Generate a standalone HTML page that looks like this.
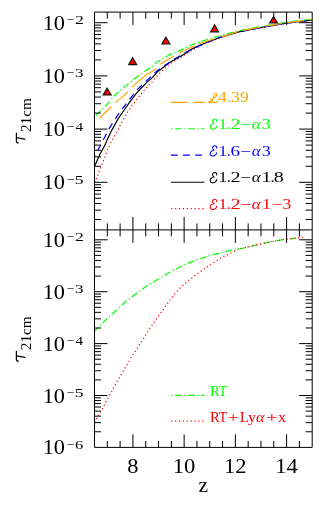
<!DOCTYPE html>
<html><head><meta charset="utf-8"><title>tau 21cm</title>
<style>html,body{margin:0;padding:0;background:#fff}svg{display:block;will-change:transform}</style></head>
<body>
<svg width="332" height="510" viewBox="0 0 332 510">
<rect width="332" height="510" fill="#fff"/>
<g>
<path d="M94.7,182.8 L95.6,181.0 L99.2,171.3 L104.0,159.3 L107.7,149.6 L110.1,144.3 L112.5,139.8 L117.3,131.1 L122.1,121.5 L126.9,113.1 L129.5,109.4 L132.2,105.5 L137.9,98.0 L143.3,91.3 L148.1,85.9 L151.8,82.3 L157.0,76.0 L163.1,69.9 L169.1,64.5 L175.1,60.3 L181.1,57.3 L192.0,50.1 L204.1,44.0 L219.8,37.8 L237.6,32.2 L250.0,29.7 L265.0,26.9 L285.7,23.4 L311.8,20.2" fill="none" stroke="#ff0000" stroke-width="1.20" stroke-linejoin="round" stroke-dasharray="1.2 2.68" stroke-dashoffset="0.0"/>
<path d="M94.7,165.9 L99.9,154.3 L105.3,144.4 L107.1,140.0 L111.3,131.1 L117.9,119.1 L124.5,109.5 L130.1,101.6 L136.1,93.7 L142.1,87.1 L148.1,81.1 L151.8,78.1 L157.0,72.3 L169.1,62.7 L181.1,56.1 L184.8,53.7 L192.0,48.9 L204.1,43.5 L219.8,37.5 L237.6,32.1 L250.0,29.6 L265.0,26.8 L285.7,23.2 L311.8,20.1" fill="none" stroke="#000" stroke-width="1.15" stroke-linejoin="round"/>
<path d="M94.7,156.3 L97.4,150.8 L101.0,144.8 L103.4,139.6 L108.9,129.3 L111.3,125.1 L117.9,114.9 L121.6,109.4 L124.9,105.5 L130.1,98.6 L133.1,94.9 L137.3,89.5 L140.9,86.3 L145.1,82.0 L149.3,78.3 L153.4,73.8 L158.3,69.9 L163.1,66.3 L168.5,63.1 L172.7,59.7 L178.7,56.7 L184.8,53.1 L192.0,48.9 L204.1,43.5 L219.8,37.5 L237.6,32.1 L250.0,29.6 L265.0,26.8 L285.7,23.2 L311.8,20.1" fill="none" stroke="#0000ff" stroke-width="1.20" stroke-linejoin="round" stroke-dasharray="6.8 5.3" stroke-dashoffset="5.6"/>
<path d="M96.1,115.7 L100.6,110.7 L104.0,108.0 L112.0,98.6 L114.4,95.5 L124.0,87.1 L136.1,77.5 L145.0,71.0 L151.8,67.0 L157.0,62.1 L169.1,54.9 L181.1,50.1 L192.0,44.7 L204.1,40.5 L219.8,35.7 L237.6,31.1 L250.0,28.6 L265.0,25.8 L285.7,22.2 L311.8,19.1" fill="none" stroke="#00ff00" stroke-width="1.20" stroke-linejoin="round" stroke-dasharray="6.7 2.6 1.3 2.5" stroke-dashoffset="0.0"/>
<path d="M99.7,118.0 L111.4,106.7" fill="none" stroke="#ffa500" stroke-width="1.20" stroke-linejoin="round"/>
<path d="M115.2,102.6 L123.9,95.6 L127.7,91.9" fill="none" stroke="#ffa500" stroke-width="1.20" stroke-linejoin="round"/>
<path d="M131.9,87.1 L138.5,81.4 L145.0,75.8 L151.8,71.4 L156.3,68.6" fill="none" stroke="#ffa500" stroke-width="1.20" stroke-linejoin="round"/>
<path d="M160.4,64.2 L167.0,59.9 L173.9,55.9" fill="none" stroke="#ffa500" stroke-width="1.20" stroke-linejoin="round"/>
<path d="M179.3,52.9 L184.8,50.5 L192.0,47.0 L194.3,45.9" fill="none" stroke="#ffa500" stroke-width="1.20" stroke-linejoin="round"/>
<path d="M198.6,43.9 L204.1,42.0 L213.1,39.1" fill="none" stroke="#ffa500" stroke-width="1.20" stroke-linejoin="round"/>
<path d="M222.1,36.7 L237.6,31.6 L250.0,29.1 L265.0,26.3 L285.7,22.8 L311.8,19.6" fill="none" stroke="#ffa500" stroke-width="1.20" stroke-linejoin="round" stroke-dasharray="16.9 5.4" stroke-dashoffset="0.0"/>
<path d="M94.7,331.0 L102.0,323.5 L114.1,312.2 L126.1,301.3 L138.2,292.2 L146.6,286.0 L152.0,282.6 L162.3,277.0 L172.0,271.0 L184.1,264.9 L196.1,260.1 L208.2,256.0 L220.2,252.9 L232.3,250.0 L243.6,248.0 L257.1,244.8 L270.7,241.8 L284.2,239.4 L299.5,237.8" fill="none" stroke="#00ff00" stroke-width="1.20" stroke-linejoin="round" stroke-dasharray="6.7 2.6 1.3 2.5" stroke-dashoffset="2.0"/>
<path d="M94.4,422.5 L98.3,415.9 L102.2,409.2 L107.4,399.0 L111.3,392.3 L116.6,382.2 L120.5,375.7 L124.5,369.1 L128.3,362.5 L132.3,355.8 L136.5,349.5 L140.5,343.1 L144.9,336.6 L149.6,328.8 L153.3,323.4 L157.5,317.3 L161.7,311.3 L166.5,304.7 L171.1,298.7 L175.9,292.4 L178.6,289.6 L184.1,284.2 L196.1,274.6 L208.2,266.1 L220.2,258.4 L232.3,252.2 L239.5,248.8 L243.6,248.0 L257.1,244.8 L270.7,241.8 L284.2,239.4 L303.6,237.2" fill="none" stroke="#ff0000" stroke-width="1.20" stroke-linejoin="round" stroke-dasharray="1.2 2.68" stroke-dashoffset="0.0"/>
</g>
<path d="M107.15,88.20 L111.10,95.00 L103.20,95.00 Z" fill="#ff0000" stroke="#111" stroke-width="1.2" stroke-linejoin="miter"/>
<path d="M132.70,57.80 L136.65,64.60 L128.75,64.60 Z" fill="#ff0000" stroke="#111" stroke-width="1.2" stroke-linejoin="miter"/>
<path d="M165.90,37.30 L169.85,44.00 L161.95,44.00 Z" fill="#ff0000" stroke="#111" stroke-width="1.2" stroke-linejoin="miter"/>
<path d="M214.60,24.90 L218.55,31.80 L210.65,31.80 Z" fill="#ff0000" stroke="#111" stroke-width="1.2" stroke-linejoin="miter"/>
<path d="M273.60,16.70 L277.55,23.00 L269.65,23.00 Z" fill="#ff0000" stroke="#111" stroke-width="1.2" stroke-linejoin="miter"/>
<path d="M94.50,12.10 H312.20 V447.40 H94.50 Z M94.50,229.90 H312.20 M107.31,12.10 v6.50 M107.31,223.40 v13.00 M107.31,447.40 v-6.50 M120.11,12.10 v6.50 M120.11,223.40 v13.00 M120.11,447.40 v-6.50 M132.92,12.10 v13.00 M132.92,216.90 v26.00 M132.92,447.40 v-13.00 M145.72,12.10 v6.50 M145.72,223.40 v13.00 M145.72,447.40 v-6.50 M158.53,12.10 v6.50 M158.53,223.40 v13.00 M158.53,447.40 v-6.50 M171.34,12.10 v6.50 M171.34,223.40 v13.00 M171.34,447.40 v-6.50 M184.14,12.10 v13.00 M184.14,216.90 v26.00 M184.14,447.40 v-13.00 M196.95,12.10 v6.50 M196.95,223.40 v13.00 M196.95,447.40 v-6.50 M209.75,12.10 v6.50 M209.75,223.40 v13.00 M209.75,447.40 v-6.50 M222.56,12.10 v6.50 M222.56,223.40 v13.00 M222.56,447.40 v-6.50 M235.36,12.10 v13.00 M235.36,216.90 v26.00 M235.36,447.40 v-13.00 M248.17,12.10 v6.50 M248.17,223.40 v13.00 M248.17,447.40 v-6.50 M260.98,12.10 v6.50 M260.98,223.40 v13.00 M260.98,447.40 v-6.50 M273.78,12.10 v6.50 M273.78,223.40 v13.00 M273.78,447.40 v-6.50 M286.59,12.10 v13.00 M286.59,216.90 v26.00 M286.59,447.40 v-13.00 M299.39,12.10 v6.50 M299.39,223.40 v13.00 M299.39,447.40 v-6.50 M94.50,219.49 h6.50 M312.20,219.49 h-6.50 M94.50,210.12 h6.50 M312.20,210.12 h-6.50 M94.50,203.47 h6.50 M312.20,203.47 h-6.50 M94.50,198.31 h6.50 M312.20,198.31 h-6.50 M94.50,194.10 h6.50 M312.20,194.10 h-6.50 M94.50,190.54 h6.50 M312.20,190.54 h-6.50 M94.50,187.46 h6.50 M312.20,187.46 h-6.50 M94.50,184.73 h6.50 M312.20,184.73 h-6.50 M94.50,182.30 h13.00 M312.20,182.30 h-13.00 M94.50,166.29 h6.50 M312.20,166.29 h-6.50 M94.50,156.92 h6.50 M312.20,156.92 h-6.50 M94.50,150.27 h6.50 M312.20,150.27 h-6.50 M94.50,145.11 h6.50 M312.20,145.11 h-6.50 M94.50,140.90 h6.50 M312.20,140.90 h-6.50 M94.50,137.34 h6.50 M312.20,137.34 h-6.50 M94.50,134.26 h6.50 M312.20,134.26 h-6.50 M94.50,131.53 h6.50 M312.20,131.53 h-6.50 M94.50,129.10 h13.00 M312.20,129.10 h-13.00 M94.50,113.09 h6.50 M312.20,113.09 h-6.50 M94.50,103.72 h6.50 M312.20,103.72 h-6.50 M94.50,97.07 h6.50 M312.20,97.07 h-6.50 M94.50,91.91 h6.50 M312.20,91.91 h-6.50 M94.50,87.70 h6.50 M312.20,87.70 h-6.50 M94.50,84.14 h6.50 M312.20,84.14 h-6.50 M94.50,81.06 h6.50 M312.20,81.06 h-6.50 M94.50,78.33 h6.50 M312.20,78.33 h-6.50 M94.50,75.90 h13.00 M312.20,75.90 h-13.00 M94.50,59.89 h6.50 M312.20,59.89 h-6.50 M94.50,50.52 h6.50 M312.20,50.52 h-6.50 M94.50,43.87 h6.50 M312.20,43.87 h-6.50 M94.50,38.71 h6.50 M312.20,38.71 h-6.50 M94.50,34.50 h6.50 M312.20,34.50 h-6.50 M94.50,30.94 h6.50 M312.20,30.94 h-6.50 M94.50,27.86 h6.50 M312.20,27.86 h-6.50 M94.50,25.13 h6.50 M312.20,25.13 h-6.50 M94.50,22.70 h13.00 M312.20,22.70 h-13.00 M94.50,431.78 h6.50 M312.20,431.78 h-6.50 M94.50,422.64 h6.50 M312.20,422.64 h-6.50 M94.50,416.15 h6.50 M312.20,416.15 h-6.50 M94.50,411.12 h6.50 M312.20,411.12 h-6.50 M94.50,407.01 h6.50 M312.20,407.01 h-6.50 M94.50,403.54 h6.50 M312.20,403.54 h-6.50 M94.50,400.53 h6.50 M312.20,400.53 h-6.50 M94.50,397.87 h6.50 M312.20,397.87 h-6.50 M94.50,395.50 h13.00 M312.20,395.50 h-13.00 M94.50,379.88 h6.50 M312.20,379.88 h-6.50 M94.50,370.74 h6.50 M312.20,370.74 h-6.50 M94.50,364.25 h6.50 M312.20,364.25 h-6.50 M94.50,359.22 h6.50 M312.20,359.22 h-6.50 M94.50,355.11 h6.50 M312.20,355.11 h-6.50 M94.50,351.64 h6.50 M312.20,351.64 h-6.50 M94.50,348.63 h6.50 M312.20,348.63 h-6.50 M94.50,345.97 h6.50 M312.20,345.97 h-6.50 M94.50,343.60 h13.00 M312.20,343.60 h-13.00 M94.50,327.98 h6.50 M312.20,327.98 h-6.50 M94.50,318.84 h6.50 M312.20,318.84 h-6.50 M94.50,312.35 h6.50 M312.20,312.35 h-6.50 M94.50,307.32 h6.50 M312.20,307.32 h-6.50 M94.50,303.21 h6.50 M312.20,303.21 h-6.50 M94.50,299.74 h6.50 M312.20,299.74 h-6.50 M94.50,296.73 h6.50 M312.20,296.73 h-6.50 M94.50,294.07 h6.50 M312.20,294.07 h-6.50 M94.50,291.70 h13.00 M312.20,291.70 h-13.00 M94.50,276.08 h6.50 M312.20,276.08 h-6.50 M94.50,266.94 h6.50 M312.20,266.94 h-6.50 M94.50,260.45 h6.50 M312.20,260.45 h-6.50 M94.50,255.42 h6.50 M312.20,255.42 h-6.50 M94.50,251.31 h6.50 M312.20,251.31 h-6.50 M94.50,247.84 h6.50 M312.20,247.84 h-6.50 M94.50,244.83 h6.50 M312.20,244.83 h-6.50 M94.50,242.17 h6.50 M312.20,242.17 h-6.50 M94.50,239.80 h13.00 M312.20,239.80 h-13.00" fill="none" stroke="#000" stroke-width="1"/>
<text x="42.7" y="29.7" font-family='"Liberation Serif", serif' font-size="21" textLength="22.3" lengthAdjust="spacingAndGlyphs">10</text>
<text transform="translate(66.53,24.20) scale(1.075,1)" font-family='"Liberation Serif", serif' font-size="12.6" fill="#000">−</text>
<text transform="translate(74.92,24.20) scale(1.406,1)" font-family='"Liberation Serif", serif' font-size="12.6" fill="#000">2</text>
<text x="42.7" y="82.9" font-family='"Liberation Serif", serif' font-size="21" textLength="22.3" lengthAdjust="spacingAndGlyphs">10</text>
<text transform="translate(66.53,77.40) scale(1.075,1)" font-family='"Liberation Serif", serif' font-size="12.6" fill="#000">−</text>
<text transform="translate(74.88,77.40) scale(1.364,1)" font-family='"Liberation Serif", serif' font-size="12.6" fill="#000">3</text>
<text x="42.7" y="136.1" font-family='"Liberation Serif", serif' font-size="21" textLength="22.3" lengthAdjust="spacingAndGlyphs">10</text>
<text transform="translate(66.53,130.60) scale(1.075,1)" font-family='"Liberation Serif", serif' font-size="12.6" fill="#000">−</text>
<text transform="translate(75.40,130.60) scale(1.212,1)" font-family='"Liberation Serif", serif' font-size="12.6" fill="#000">4</text>
<text x="42.7" y="189.3" font-family='"Liberation Serif", serif' font-size="21" textLength="22.3" lengthAdjust="spacingAndGlyphs">10</text>
<text transform="translate(66.53,183.80) scale(1.075,1)" font-family='"Liberation Serif", serif' font-size="12.6" fill="#000">−</text>
<text transform="translate(74.68,183.80) scale(1.399,1)" font-family='"Liberation Serif", serif' font-size="12.6" fill="#000">5</text>
<text x="42.7" y="246.8" font-family='"Liberation Serif", serif' font-size="21" textLength="22.3" lengthAdjust="spacingAndGlyphs">10</text>
<text transform="translate(66.53,241.30) scale(1.075,1)" font-family='"Liberation Serif", serif' font-size="12.6" fill="#000">−</text>
<text transform="translate(74.92,241.30) scale(1.406,1)" font-family='"Liberation Serif", serif' font-size="12.6" fill="#000">2</text>
<text x="42.7" y="298.7" font-family='"Liberation Serif", serif' font-size="21" textLength="22.3" lengthAdjust="spacingAndGlyphs">10</text>
<text transform="translate(66.53,293.20) scale(1.075,1)" font-family='"Liberation Serif", serif' font-size="12.6" fill="#000">−</text>
<text transform="translate(74.88,293.20) scale(1.364,1)" font-family='"Liberation Serif", serif' font-size="12.6" fill="#000">3</text>
<text x="42.7" y="350.6" font-family='"Liberation Serif", serif' font-size="21" textLength="22.3" lengthAdjust="spacingAndGlyphs">10</text>
<text transform="translate(66.53,345.10) scale(1.075,1)" font-family='"Liberation Serif", serif' font-size="12.6" fill="#000">−</text>
<text transform="translate(75.40,345.10) scale(1.212,1)" font-family='"Liberation Serif", serif' font-size="12.6" fill="#000">4</text>
<text x="42.7" y="402.5" font-family='"Liberation Serif", serif' font-size="21" textLength="22.3" lengthAdjust="spacingAndGlyphs">10</text>
<text transform="translate(66.53,397.00) scale(1.075,1)" font-family='"Liberation Serif", serif' font-size="12.6" fill="#000">−</text>
<text transform="translate(74.68,397.00) scale(1.399,1)" font-family='"Liberation Serif", serif' font-size="12.6" fill="#000">5</text>
<text x="42.7" y="454.4" font-family='"Liberation Serif", serif' font-size="21" textLength="22.3" lengthAdjust="spacingAndGlyphs">10</text>
<text transform="translate(66.53,448.90) scale(1.075,1)" font-family='"Liberation Serif", serif' font-size="12.6" fill="#000">−</text>
<text transform="translate(74.99,448.90) scale(1.319,1)" font-family='"Liberation Serif", serif' font-size="12.6" fill="#000">6</text>
<text x="127.2" y="472.6" font-family='"Liberation Serif", serif' font-size="20.6" textLength="11.2" lengthAdjust="spacingAndGlyphs">8</text>
<text x="172.7" y="472.6" font-family='"Liberation Serif", serif' font-size="20.6" textLength="22.6" lengthAdjust="spacingAndGlyphs">10</text>
<text x="224.0" y="472.6" font-family='"Liberation Serif", serif' font-size="20.6" textLength="22.6" lengthAdjust="spacingAndGlyphs">12</text>
<text x="275.2" y="472.6" font-family='"Liberation Serif", serif' font-size="20.6" textLength="22.6" lengthAdjust="spacingAndGlyphs">14</text>
<text x="203.2" y="491.6" font-family='"Liberation Serif", serif' font-size="21.5" text-anchor="middle">z</text>
<path d="M18.3,142.8 Q16.4,143.0 16.4,141.1 L16.4,133.2 M16.5,137.6 L24.9,139.1" fill="none" stroke="#000" stroke-width="1.25" stroke-linecap="round"/>
<g transform="translate(0,120.7) rotate(-90)">
<text x="-11.3" y="31.3" font-family='"Liberation Serif", serif' font-size="13.6" textLength="33.8" lengthAdjust="spacingAndGlyphs">21cm</text>
</g>
<path d="M18.3,361.0 Q16.4,361.2 16.4,359.3 L16.4,351.4 M16.5,355.8 L24.9,357.3" fill="none" stroke="#000" stroke-width="1.25" stroke-linecap="round"/>
<g transform="translate(0,338.9) rotate(-90)">
<text x="-11.3" y="31.3" font-family='"Liberation Serif", serif' font-size="13.6" textLength="33.8" lengthAdjust="spacingAndGlyphs">21cm</text>
</g>
<path d="M170.9,102.3 H204.4" fill="none" stroke="#ffa500" stroke-width="1.15" stroke-dasharray="16.9 5.4" stroke-dashoffset="0.0"/>
<path d="M170.9,128.7 H204.4" fill="none" stroke="#00ff00" stroke-width="1.15" stroke-dasharray="6.7 2.6 1.3 2.5" stroke-dashoffset="8.9"/>
<path d="M170.9,155.1 H204.4" fill="none" stroke="#0000ff" stroke-width="1.15" stroke-dasharray="6.8 5.3" stroke-dashoffset="0.0"/>
<path d="M170.9,182.2 H204.4" fill="none" stroke="#000" stroke-width="1.15"/>
<path d="M170.9,208.6 H204.4" fill="none" stroke="#ff0000" stroke-width="1.15" stroke-dasharray="1.2 2.68" stroke-dashoffset="-0.3"/>
<path transform="translate(208.6,102.8)" d="M2.2,-3.4 C5,-3.6 8.2,-6.2 8.3,-8.4 C8.4,-10 6.6,-10 5.8,-8.4 C4.8,-6.2 4.4,-3 2.8,-0.8 C2,0.3 0.3,0.2 0.3,-0.8 C0.3,-2 2.2,-1.8 3.6,-1 C5.2,-0.1 7.2,0.2 8.8,-1.4" fill="none" stroke="#ffa500" stroke-width="1.1" stroke-linecap="round"/>
<text transform="translate(217.65,102.40) scale(1.238,1)" font-family='"Liberation Serif", serif' font-size="14.6" fill="#ffa500">4</text>
<text transform="translate(227.19,102.40) scale(1.101,1)" font-family='"Liberation Serif", serif' font-size="14.6" fill="#ffa500">.</text>
<text transform="translate(231.07,102.40) scale(1.194,1)" font-family='"Liberation Serif", serif' font-size="14.6" fill="#ffa500">3</text>
<text transform="translate(239.93,102.40) scale(1.220,1)" font-family='"Liberation Serif", serif' font-size="14.6" fill="#ffa500">9</text>
<path transform="translate(210.0,129.1)" d="M6.7,-7.7 C7.0,-9.7 5.2,-10.5 3.8,-9.9 C2.0,-9.1 1.9,-6.6 4.3,-5.6 C1.6,-5.4 0.2,-3.6 0.2,-1.9 C0.3,0.3 3.0,0.6 4.8,-0.4 C5.9,-1.1 6.6,-2.0 6.7,-3.0" fill="none" stroke="#00ff00" stroke-width="1.1" stroke-linecap="round"/>
<text transform="translate(218.38,128.90) scale(1.187,1)" font-family='"Liberation Serif", serif' font-size="14.6" fill="#00ff00">1</text>
<text transform="translate(226.79,128.90) scale(1.101,1)" font-family='"Liberation Serif", serif' font-size="14.6" fill="#00ff00">.</text>
<text transform="translate(230.41,128.90) scale(1.384,1)" font-family='"Liberation Serif", serif' font-size="14.6" fill="#00ff00">2</text>
<text transform="translate(240.04,128.90) scale(1.325,1)" font-family='"Liberation Serif", serif' font-size="14.6" fill="#00ff00">−</text>
<text transform="translate(251.69,128.90) scale(1.164,1)" font-family='"Liberation Serif", serif' font-size="14.6" fill="#00ff00" font-style="italic">α</text>
<text transform="translate(261.64,128.90) scale(1.227,1)" font-family='"Liberation Serif", serif' font-size="14.6" fill="#00ff00">3</text>
<path transform="translate(210.0,155.8)" d="M6.7,-7.7 C7.0,-9.7 5.2,-10.5 3.8,-9.9 C2.0,-9.1 1.9,-6.6 4.3,-5.6 C1.6,-5.4 0.2,-3.6 0.2,-1.9 C0.3,0.3 3.0,0.6 4.8,-0.4 C5.9,-1.1 6.6,-2.0 6.7,-3.0" fill="none" stroke="#0000ff" stroke-width="1.1" stroke-linecap="round"/>
<text transform="translate(218.38,155.50) scale(1.187,1)" font-family='"Liberation Serif", serif' font-size="14.6" fill="#0000ff">1</text>
<text transform="translate(226.79,155.50) scale(1.101,1)" font-family='"Liberation Serif", serif' font-size="14.6" fill="#0000ff">.</text>
<text transform="translate(230.49,155.50) scale(1.299,1)" font-family='"Liberation Serif", serif' font-size="14.6" fill="#0000ff">6</text>
<text transform="translate(240.04,155.50) scale(1.325,1)" font-family='"Liberation Serif", serif' font-size="14.6" fill="#0000ff">−</text>
<text transform="translate(251.69,155.50) scale(1.164,1)" font-family='"Liberation Serif", serif' font-size="14.6" fill="#0000ff" font-style="italic">α</text>
<text transform="translate(261.64,155.50) scale(1.227,1)" font-family='"Liberation Serif", serif' font-size="14.6" fill="#0000ff">3</text>
<path transform="translate(210.0,182.6)" d="M6.7,-7.7 C7.0,-9.7 5.2,-10.5 3.8,-9.9 C2.0,-9.1 1.9,-6.6 4.3,-5.6 C1.6,-5.4 0.2,-3.6 0.2,-1.9 C0.3,0.3 3.0,0.6 4.8,-0.4 C5.9,-1.1 6.6,-2.0 6.7,-3.0" fill="none" stroke="#000" stroke-width="1.1" stroke-linecap="round"/>
<text transform="translate(218.38,182.20) scale(1.187,1)" font-family='"Liberation Serif", serif' font-size="14.6" fill="#000">1</text>
<text transform="translate(226.79,182.20) scale(1.101,1)" font-family='"Liberation Serif", serif' font-size="14.6" fill="#000">.</text>
<text transform="translate(230.41,182.20) scale(1.384,1)" font-family='"Liberation Serif", serif' font-size="14.6" fill="#000">2</text>
<text transform="translate(240.04,182.20) scale(1.325,1)" font-family='"Liberation Serif", serif' font-size="14.6" fill="#000">−</text>
<text transform="translate(251.69,182.20) scale(1.164,1)" font-family='"Liberation Serif", serif' font-size="14.6" fill="#000" font-style="italic">α</text>
<text transform="translate(261.18,182.20) scale(1.420,1)" font-family='"Liberation Serif", serif' font-size="14.6" fill="#000">1</text>
<text transform="translate(270.39,182.20) scale(1.101,1)" font-family='"Liberation Serif", serif' font-size="14.6" fill="#000">.</text>
<text transform="translate(273.74,182.20) scale(1.374,1)" font-family='"Liberation Serif", serif' font-size="14.6" fill="#000">8</text>
<path transform="translate(210.0,209.4)" d="M6.7,-7.7 C7.0,-9.7 5.2,-10.5 3.8,-9.9 C2.0,-9.1 1.9,-6.6 4.3,-5.6 C1.6,-5.4 0.2,-3.6 0.2,-1.9 C0.3,0.3 3.0,0.6 4.8,-0.4 C5.9,-1.1 6.6,-2.0 6.7,-3.0" fill="none" stroke="#ff0000" stroke-width="1.1" stroke-linecap="round"/>
<text transform="translate(218.38,208.90) scale(1.187,1)" font-family='"Liberation Serif", serif' font-size="14.6" fill="#ff0000">1</text>
<text transform="translate(226.79,208.90) scale(1.101,1)" font-family='"Liberation Serif", serif' font-size="14.6" fill="#ff0000">.</text>
<text transform="translate(230.41,208.90) scale(1.384,1)" font-family='"Liberation Serif", serif' font-size="14.6" fill="#ff0000">2</text>
<text transform="translate(240.04,208.90) scale(1.325,1)" font-family='"Liberation Serif", serif' font-size="14.6" fill="#ff0000">−</text>
<text transform="translate(251.69,208.90) scale(1.164,1)" font-family='"Liberation Serif", serif' font-size="14.6" fill="#ff0000" font-style="italic">α</text>
<text transform="translate(262.10,208.90) scale(1.245,1)" font-family='"Liberation Serif", serif' font-size="14.6" fill="#ff0000">1</text>
<text transform="translate(271.60,208.90) scale(1.236,1)" font-family='"Liberation Serif", serif' font-size="14.6" fill="#ff0000">−</text>
<text transform="translate(282.47,208.90) scale(1.194,1)" font-family='"Liberation Serif", serif' font-size="14.6" fill="#ff0000">3</text>
<path d="M170.9,395.4 H204.4" fill="none" stroke="#00ff00" stroke-width="1.15" stroke-dasharray="6.7 2.6 1.3 2.5" stroke-dashoffset="8.9"/>
<path d="M170.9,421.1 H204.4" fill="none" stroke="#ff0000" stroke-width="1.15" stroke-dasharray="1.2 2.68" stroke-dashoffset="-0.3"/>
<text transform="translate(209.98,395.60) scale(0.987,1)" font-family='"Liberation Serif", serif' font-size="14.8" fill="#00ff00">R</text>
<text transform="translate(218.75,395.60) scale(0.926,1)" font-family='"Liberation Serif", serif' font-size="14.8" fill="#00ff00">T</text>
<text transform="translate(209.98,421.90) scale(0.987,1)" font-family='"Liberation Serif", serif' font-size="14.8" fill="#ff0000">R</text>
<text transform="translate(218.75,421.90) scale(0.926,1)" font-family='"Liberation Serif", serif' font-size="14.8" fill="#ff0000">T</text>
<text transform="translate(227.99,421.90) scale(1.234,1)" font-family='"Liberation Serif", serif' font-size="14.8" fill="#ff0000">+</text>
<text transform="translate(239.86,421.90) scale(1.036,1)" font-family='"Liberation Serif", serif' font-size="14.8" fill="#ff0000">L</text>
<text transform="translate(248.10,421.90) scale(1.089,1)" font-family='"Liberation Serif", serif' font-size="14.8" fill="#ff0000">y</text>
<text transform="translate(256.02,421.90) scale(1.096,1)" font-family='"Liberation Serif", serif' font-size="14.8" fill="#ff0000" font-style="italic">α</text>
<text transform="translate(266.22,421.90) scale(1.336,1)" font-family='"Liberation Serif", serif' font-size="14.8" fill="#ff0000">+</text>
<text transform="translate(277.96,421.90) scale(1.100,1)" font-family='"Liberation Serif", serif' font-size="14.8" fill="#ff0000">x</text>
</svg>
</body></html>
